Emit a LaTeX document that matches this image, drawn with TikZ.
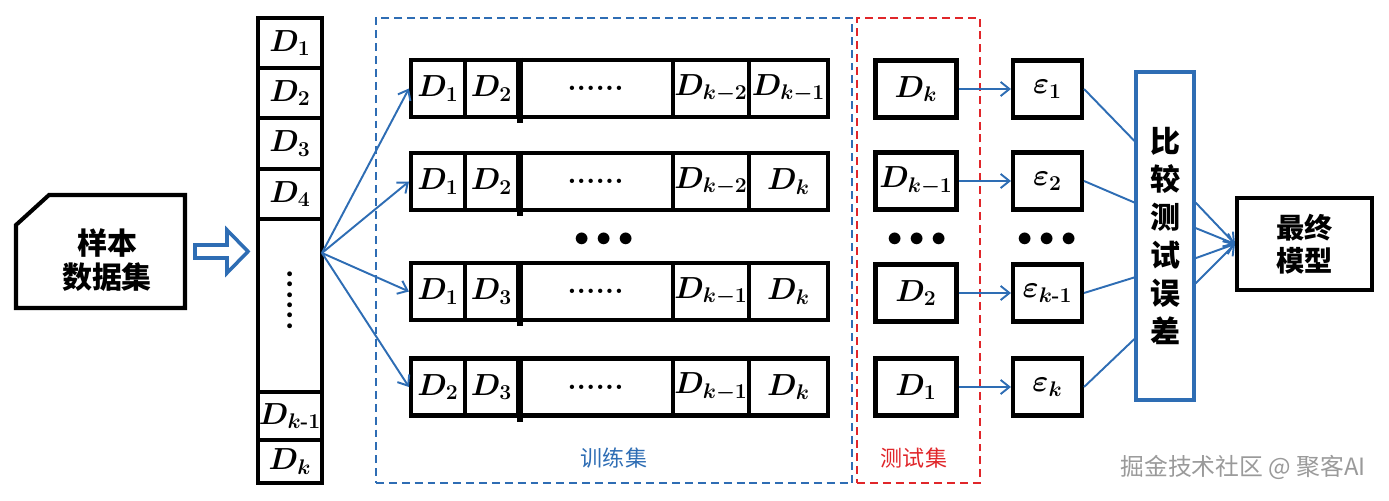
\documentclass[tikz,border=0pt]{standalone}
\usepackage{amsmath,bm}
\usepackage{fontspec}
\newfontfamily\cjk{Noto Sans CJK SC}
\usetikzlibrary{arrows.meta,calc}
\definecolor{lblue}{HTML}{2E6DB4}
\definecolor{dred}{HTML}{E0262A}
\definecolor{wgray}{HTML}{9A9A9A}
\def\u{0.5669pt}
\tikzset{
  cell/.style={draw=black, line width=2.3pt, inner sep=0pt, font=\fontsize{16.5}{18}\selectfont\boldmath},
  conn/.style={draw=lblue, line width=1.1pt},
  tip/.style={-{Straight Barb[length=5pt,width=8pt]}},
  dbox/.style={dashed, dash pattern=on 4.5pt off 2.8pt, line width=1.2pt, inner sep=0pt},
  dotrow/.style={font=\fontsize{17}{18}\selectfont\bfseries},
  bigdots/.style={font=\fontsize{16}{18}\selectfont},
  zh/.style={font=\fontsize{17}{19}\selectfont\cjk\bfseries, align=center}
}
\begin{document}
\begin{tikzpicture}[x=0.5669pt,y=-0.5669pt]
\useasboundingbox (0,0) rectangle (1389,501);
% sample data set
\draw[line width=2.3pt] (49,195) -- (185,195) -- (185,308) -- (16,308) -- (16,225) -- cycle;
\node[zh, font=\fontsize{17}{19.3}\selectfont\cjk\bfseries] (sample) at (107,260) {样本\\数据集};
% hollow arrow
\draw[draw=lblue, line width=2pt, fill=white] (195,245) -- (227,245) -- (227,230) -- (248,251.5) -- (227,273) -- (227,258) -- (195,258) -- cycle;
% column of D's
\node[cell, minimum width=64*\u, minimum height=50*\u] (c1) at (290,43) {$D_1$};
\node[cell, minimum width=64*\u, minimum height=50*\u] (c2) at (290,93) {$D_2$};
\node[cell, minimum width=64*\u, minimum height=51*\u] (c3) at (290,143.5) {$D_3$};
\node[cell, minimum width=64*\u, minimum height=50*\u] (c4) at (290,194) {$D_4$};
\node[cell, minimum width=64*\u, minimum height=173*\u] (c5) at (290,305.5) {};
\node[cell, minimum width=64*\u, minimum height=48*\u] (c6) at (290,416) {$D_{k\textbf{-}1}$};
\node[cell, minimum width=64*\u, minimum height=43*\u] (c7) at (290,461.5) {$D_k$};
\node[rotate=90, font=\fontsize{19}{20}\selectfont\bfseries] (vdots) at (290,300) {......};
\coordinate (fan) at (322,253);
% dashed boxes
\node[dbox, draw=lblue, minimum width=476*\u, minimum height=465*\u] (train) at (614,250.5) {};
\node[dbox, draw=dred, minimum width=123*\u, minimum height=465*\u] (test) at (918.5,250.5) {};
\node[text=lblue, font=\fontsize{12.5}{14}\selectfont\cjk] (trainlbl) at (614,458) {训练集};
\node[text=dred, font=\fontsize{12.5}{14}\selectfont\cjk] (testlbl) at (914,458) {测试集};
% training rows
\foreach \r/\y/\a/\b/\c/\d in {1/88.5/{D_1}/{D_2}/{D_{k-2}}/{D_{k-1}},
                               2/181.5/{D_1}/{D_2}/{D_{k-2}}/{D_k},
                               3/291.5/{D_1}/{D_3}/{D_{k-1}}/{D_k},
                               4/387/{D_2}/{D_3}/{D_{k-1}}/{D_k}}{
  \node[cell, minimum width=54*\u, minimum height=57*\u] (r\r-1) at (438,\y) {$\a$};
  \node[cell, minimum width=53*\u, minimum height=57*\u] (r\r-2) at (491.5,\y) {$\b$};
  \node[cell, minimum width=155*\u, minimum height=57*\u, dotrow] (r\r-3) at (595.5,\y) {......};
  \node[cell, minimum width=76*\u, minimum height=57*\u] (r\r-4) at (711,\y) {$\c$};
  \node[cell, minimum width=79*\u, minimum height=57*\u] (r\r-5) at (788.5,\y) {$\d$};
  \draw[line width=3pt] (r\r-2.north east) -- ($(r\r-2.south east)+(0,4)$);
  \draw[conn, tip] (fan) -- (r\r-1.west);
}
% test boxes and errors
\foreach \i/\y/\t/\e in {1/89/{D_k}/{\varepsilon_1}, 2/181/{D_{k-1}}/{\varepsilon_2},
                         3/293/{D_2}/{\varepsilon_{k\textbf{-}1}}, 4/387/{D_1}/{\varepsilon_k}}{
  \node[cell, minimum width=81*\u, minimum height=57*\u] (t\i) at (916,\y) {$\t$};
  \node[cell, minimum width=69*\u, minimum height=57*\u] (e\i) at (1047.5,\y) {$\e$};
  \draw[conn, tip] (t\i.east) -- (e\i.west);
}
\node[bigdots] (d1) at (604,240) {$\bullet\bullet\bullet$};
\node[bigdots] (d2) at (917,240) {$\bullet\bullet\bullet$};
\node[bigdots] (d3) at (1047,240) {$\bullet\bullet\bullet$};
% compare box
\node[draw=lblue, line width=1.8pt, minimum width=58*\u, minimum height=328*\u, inner sep=0pt,
      font=\fontsize{17}{21.6}\selectfont\cjk\bfseries, align=center] (cmp) at (1165,236) {比\\较\\测\\试\\误\\差};
\draw[conn] (e1.east) -- ($(cmp.north west)!0.213!(cmp.south west)$);
\draw[conn] (e2.east) -- ($(cmp.north west)!0.399!(cmp.south west)$);
\draw[conn] (e3.east) -- ($(cmp.north west)!0.625!(cmp.south west)$);
\draw[conn] (e4.east) -- ($(cmp.north west)!0.811!(cmp.south west)$);
% final model
\node[draw=black, line width=2.3pt, minimum width=135*\u, minimum height=92*\u, inner sep=0pt,
      font=\fontsize{16}{18.7}\selectfont\cjk\bfseries, align=center] (fin) at (1304.5,244) {最终\\模型};
\foreach \f in {0.399,0.476,0.567,0.643}{
  \draw[conn, tip] ($(cmp.north east)!\f!(cmp.south east)$) -- (fin.west);
}
% watermark
\node[text=wgray, font=\fontsize{13.5}{15}\selectfont\cjk] (wm) at (1243,467) {掘金技术社区 @ 聚客AI};
\end{tikzpicture}
\end{document}
